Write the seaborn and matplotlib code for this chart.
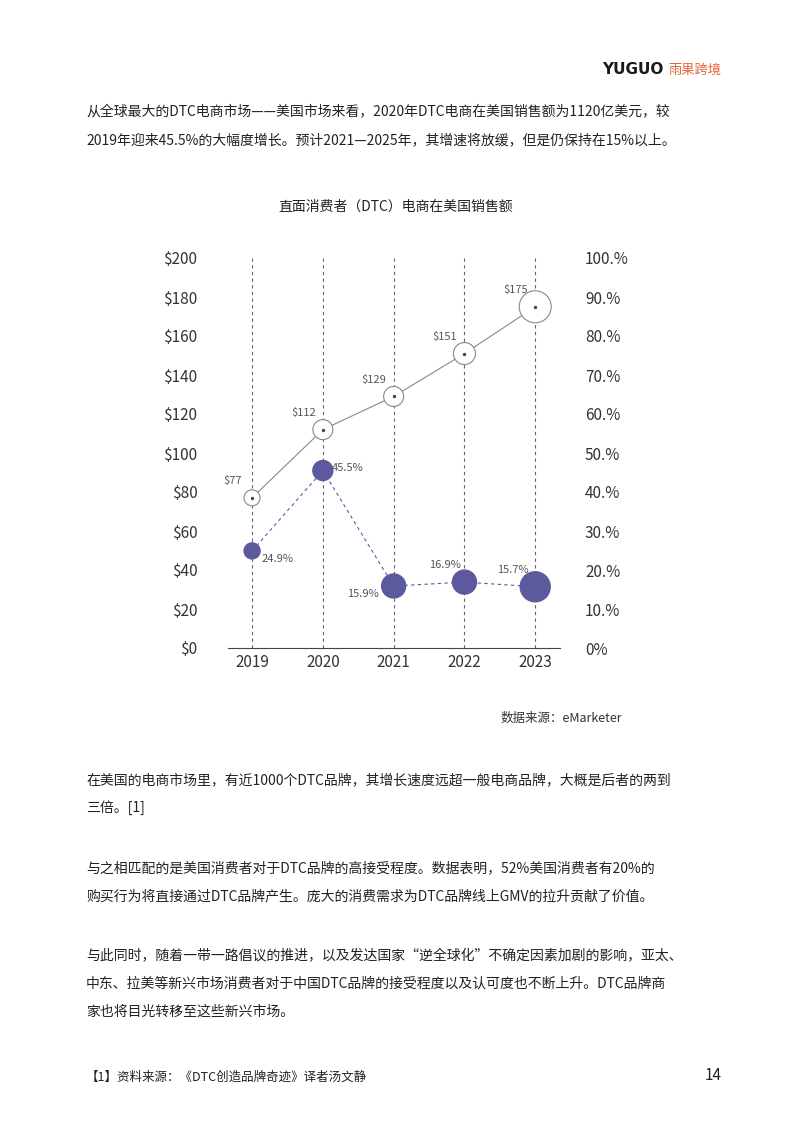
import matplotlib
matplotlib.use("Agg")
import matplotlib.pyplot as plt
import seaborn as sns
import pandas as pd

years = [2019, 2020, 2021, 2022, 2023]
sales = [77, 112, 129, 151, 175]
growth = [24.9, 45.5, 15.9, 16.9, 15.7]
y_ticks = [0, 20, 40, 60, 80, 100, 120, 140, 160, 180, 200]
y_labels = ["$" + str(v) for v in y_ticks]
r_labels = ["0%"] + [f"{v}.%" for v in range(10, 101, 10)]

plt.rcParams["font.family"] = "Noto Sans CJK SC"
fig = plt.figure(figsize=(7.93, 11.22), dpi=100)
W, H = 793, 1122
def t(x, y, s, **kw):
    kw.setdefault("fontsize", 10)
    kw.setdefault("color", "#222222")
    fig.text(x / W, 1 - y / H, s, va="center", **kw)

t(663, 70, "YUGUO", ha="right", fontsize=11, fontweight="bold", color="#1a1a1a", family="DejaVu Sans")
t(668, 70, "雨果跨境", fontsize=9.5, color="#e8623a")
t(86, 111, "从全球最大的DTC电商市场——美国市场来看，2020年DTC电商在美国销售额为1120亿美元，较")
t(86, 140, "2019年迎来45.5%的大幅度增长。预计2021—2025年，其增速将放缓，但是仍保持在15%以上。")
t(396, 207, "直面消费者（DTC）电商在美国销售额", ha="center", fontsize=10)
t(622, 718, "数据来源：eMarketer", ha="right", fontsize=9, color="#333333")
t(86, 780, "在美国的电商市场里，有近1000个DTC品牌，其增长速度远超一般电商品牌，大概是后者的两到")
t(86, 808, "三倍。[1]")
t(86, 868, "与之相匹配的是美国消费者对于DTC品牌的高接受程度。数据表明，52%美国消费者有20%的")
t(86, 896, "购买行为将直接通过DTC品牌产生。庞大的消费需求为DTC品牌线上GMV的拉升贡献了价值。")
t(86, 956, "与此同时，随着一带一路倡议的推进，以及发达国家“逆全球化”不确定因素加剧的影响，亚太、")
t(86, 984, "中东、拉美等新兴市场消费者对于中国DTC品牌的接受程度以及认可度也不断上升。DTC品牌商")
t(86, 1012, "家也将目光转移至这些新兴市场。")
t(86, 1077, "【1】资料来源：《DTC创造品牌奇迹》译者汤文静", fontsize=9)
t(722, 1076, "14", ha="right", fontsize=11)

ax = fig.add_axes([228 / W, 1 - 648 / H, (560 - 228) / W, (648 - 258) / H])
df = pd.DataFrame({"year": years, "sales": sales, "g2": [g * 2 for g in growth]})
for x in years:
    ax.axvline(x, color="#666666", ls=(0, (3, 3)), lw=0.8, zorder=0)
sns.lineplot(data=df, x="year", y="sales", ax=ax, color="#888888", lw=0.8, zorder=1)
sns.lineplot(data=df, x="year", y="g2", ax=ax, color="#5c5a9c", lw=0.8, ls=(0, (3, 3)), zorder=1)
open_r = [8, 10, 10, 11, 16]
fill_r = [8, 10, 12, 12, 15]
ax.scatter(years, sales, s=[(r * 1.44) ** 2 for r in open_r], facecolor="white", edgecolor="#888888", lw=0.8, zorder=3)
ax.scatter(years, sales, s=2, color="#444444", zorder=4)
ax.scatter(years, df["g2"], s=[(r * 1.44) ** 2 for r in fill_r], color="#5c5a9c", zorder=3)
for x, v in zip(years, sales):
    ax.annotate(f"${v}", (x, v), xytext=(-14, 10), textcoords="offset points", ha="center", fontsize=8, color="#555555")
offs = [(18, -6), (18, 2), (-22, -6), (-14, 12), (-16, 12)]
for x, g, o in zip(years, growth, offs):
    ax.annotate(f"{g}%", (x, g * 2), xytext=o, textcoords="offset points", ha="center", va="center", fontsize=8, color="#555555")
ax.set_xlim(2018.66, 2023.35)
ax.set_ylim(0, 200)
ax.set_yticks(y_ticks, y_labels)
ax.set_xticks(years, [str(y) for y in years])
for s in ["top", "right", "left"]:
    ax.spines[s].set_visible(False)
ax.spines["bottom"].set_color("#444444")
ax.tick_params(axis="y", length=0, labelsize=11, colors="#333333", pad=22)
ax.tick_params(axis="x", length=0, labelsize=11, colors="#333333", pad=4)
ax.set_xlabel("")
ax.set_ylabel("")
ax2 = ax.twinx()
ax2.set_ylim(0, 200)
ax2.set_yticks(y_ticks, r_labels)
for s in ax2.spines.values():
    s.set_visible(False)
ax2.tick_params(axis="y", length=0, labelsize=11, colors="#333333", pad=18)
fig.savefig("out.png", dpi=100)
